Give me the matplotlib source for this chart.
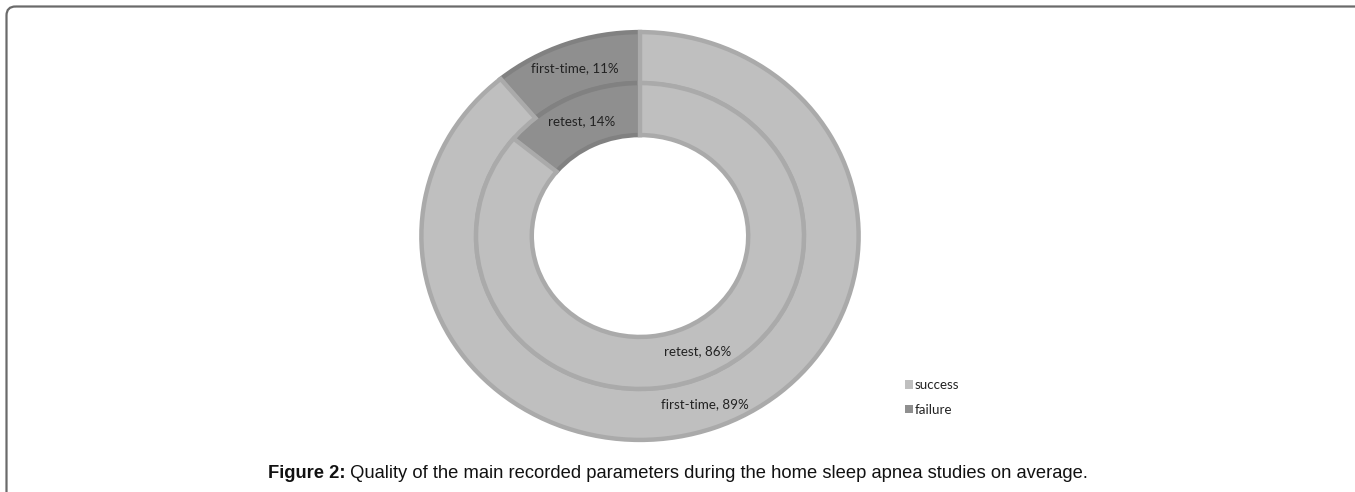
import matplotlib
matplotlib.use("Agg")
import matplotlib.pyplot as plt
import numpy as np
from matplotlib.patches import FancyBboxPatch

# ---- data ----
categories = ["success", "failure"]
outer_name = "first-time"
outer_values = [89, 11]
inner_name = "retest"
inner_values = [86, 14]
caption_bold = "Figure 2:"
caption_rest = " Quality of the main recorded parameters during the home sleep apnea studies on average."

W, H = 1355, 492
fig = plt.figure(figsize=(W / 100, H / 100), dpi=100)
fig.patch.set_facecolor("white")

# background axes in pixel coordinates for the frame
bg = fig.add_axes([0, 0, 1, 1])
bg.set_xlim(0, W)
bg.set_ylim(H, 0)
bg.axis("off")
frame = FancyBboxPatch((6.5, 6.5), 1500, 700,
                       boxstyle="round,pad=0,rounding_size=9",
                       facecolor="none", edgecolor="#6a6a6a", linewidth=1.6)
bg.add_patch(frame)

# donut axes: elliptical as in the reference
cx, cy, rx, ry = 640, 236, 223, 208
ax = fig.add_axes([(cx - rx) / W, (H - cy - ry) / H, 2 * rx / W, 2 * ry / H])

fill_cols = ["#bfbfbf", "#8f8f8f"]
edge_cols = ["#aaaaaa", "#818181"]

r_out, r_mid, r_in = 1.0, 0.75, 0.495

outer_w, _ = ax.pie(outer_values, radius=r_out, startangle=90, counterclock=False,
                    colors=fill_cols, wedgeprops=dict(width=r_out - r_mid, linewidth=0))
inner_w, _ = ax.pie(inner_values, radius=r_mid, startangle=90, counterclock=False,
                    colors=fill_cols, wedgeprops=dict(width=r_mid - r_in, linewidth=0))
for ws in (outer_w, inner_w):
    for w, ec in zip(ws, edge_cols):
        w.set_edgecolor(ec)
        w.set_linewidth(3.2)
        w.set_joinstyle("miter")
for ws in (outer_w, inner_w):
    ws[0].set_zorder(2)
    ws[1].set_zorder(1)

ax.set_aspect("auto")
ax.set_xlim(-1.02, 1.02)
ax.set_ylim(-1.02, 1.02)
ax.axis("off")

lab_font = dict(family=["Lato", "DejaVu Sans"], fontsize=9.6, color="#222222")

def put_labels(wedges, name, values, rmid):
    for w, v in zip(wedges, values):
        ang = np.deg2rad((w.theta1 + w.theta2) / 2)
        ax.text(rmid * np.cos(ang), rmid * np.sin(ang), f"{name}, {v}%",
                ha="center", va="center", zorder=5, **lab_font)

put_labels(outer_w, outer_name, outer_values, (r_out + r_mid) / 2)
put_labels(inner_w, inner_name, inner_values, (r_mid + r_in) / 2)

# legend
leg = fig.legend(outer_w, categories, loc="upper left",
                 bbox_to_anchor=(905 / W, 1 - 379 / H),
                 frameon=False, prop=dict(family="Lato", size=9.6),
                 handlelength=0.6, handleheight=0.6, handletextpad=0.12,
                 labelspacing=0.95, borderaxespad=0, borderpad=0)
for h in leg.legend_handles:
    h.set_linewidth(0)
for t in leg.get_texts():
    t.set_color("#222222")

# caption
fig.canvas.draw()
renderer = fig.canvas.get_renderer()
cap_font = dict(family="Liberation Sans", fontsize=13.2, color="#111111")
t1 = fig.text(0, 1 - 473 / H, caption_bold, fontweight="bold", va="center", **cap_font)
t2 = fig.text(0, 1 - 473 / H, caption_rest, va="center", **cap_font)
b1 = t1.get_window_extent(renderer)
b2 = t2.get_window_extent(renderer)
total = b1.width + b2.width
x0 = 678 - total / 2
t1.set_x(x0 / W)
t2.set_x((x0 + b1.width) / W)

fig.savefig("out.png", dpi=100, facecolor="white")
